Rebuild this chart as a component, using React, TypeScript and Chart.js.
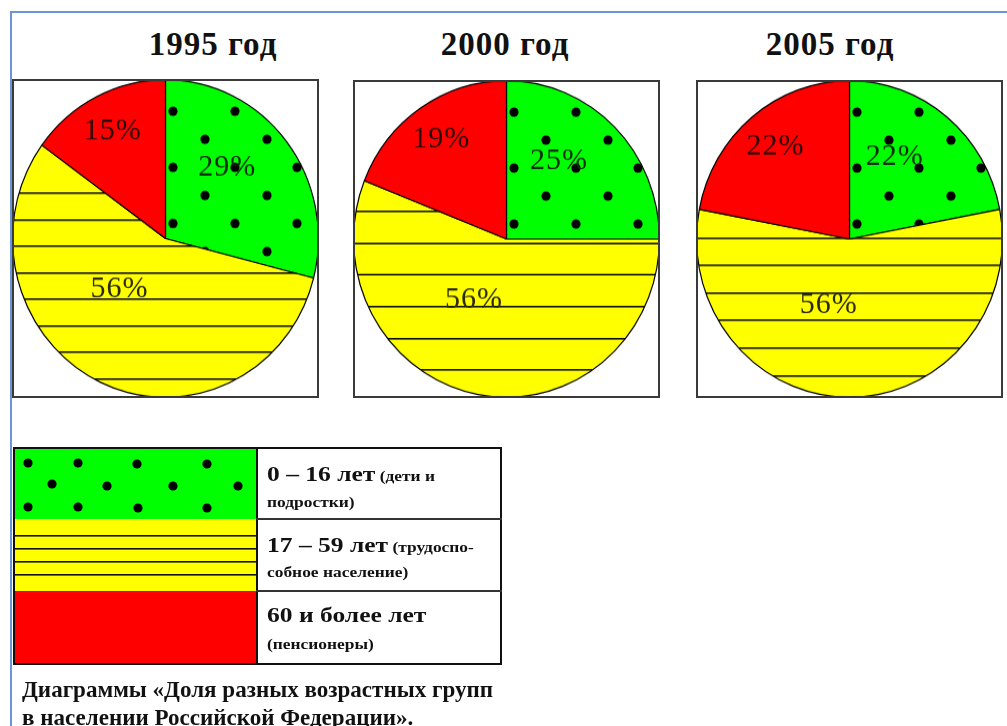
import React, { useEffect, useRef } from 'react';
import { Chart, registerables } from 'chart.js';

Chart.register(...registerables);

// ---- data ----
const years = ['1995 год', '2000 год', '2005 год'];
const categories = ['0 – 16 лет', '17 – 59 лет', '60 и более лет'];
const notesLine1 = ['(дети и', '(трудоспо-', ''];
const notesLine2 = ['подростки)', 'собное население)', '(пенсионеры)'];
const values1995 = [29, 56, 15];
const values2000 = [25, 56, 19];
const values2005 = [22, 56, 22];
const seriesByYear = [values1995, values2000, values2005];
const captionLines = ['Диаграммы «Доля разных возрастных групп', 'в населении Российской Федерации».'];

// ---- styles ----
const GREEN = '#00ff00';
const YELLOW = '#ffff00';
const RED = '#ff0000';
const SERIF = '"Liberation Serif", "Times New Roman", serif';
const labelRadius = [0.6, 0.44, 0.76];
const labelAngleShift = [-10, 18, 0];
const labelColors = ['#0d2a0d', '#2a2a05', '#2a0505'];
const CW = 307; // chart canvas drawing size

function makeDots(ctx: CanvasRenderingContext2D) {
  const c = document.createElement('canvas');
  c.width = CW;
  c.height = CW;
  const g = c.getContext('2d')!;
  g.fillStyle = GREEN;
  g.fillRect(0, 0, CW, CW);
  g.fillStyle = '#000';
  for (let k = 0; k < 12; k++) {
    const y = 31 + k * 27;
    const x0 = k % 2 === 0 ? 161 : 193;
    for (let x = x0 - 62 * 3; x < CW; x += 62) {
      g.beginPath();
      g.arc(x, y, 4.6, 0, Math.PI * 2);
      g.fill();
    }
  }
  return ctx.createPattern(c, 'no-repeat')!;
}

function makeLines(ctx: CanvasRenderingContext2D, start: number, step: number) {
  const c = document.createElement('canvas');
  c.width = CW;
  c.height = CW;
  const g = c.getContext('2d')!;
  g.fillStyle = YELLOW;
  g.fillRect(0, 0, CW, CW);
  g.fillStyle = '#111';
  for (let y = start; y < CW; y += step) g.fillRect(0, Math.round(y), CW, 1.6);
  return ctx.createPattern(c, 'no-repeat')!;
}

const labelPlugin = {
  id: 'sliceLabels',
  afterDatasetsDraw(chart: any) {
    const ctx = chart.ctx as CanvasRenderingContext2D;
    const meta = chart.getDatasetMeta(0);
    const data = chart.data.datasets[0].data as number[];
    ctx.save();
    ctx.font = `30px ${SERIF}`;
    try {
      (ctx as any).letterSpacing = '1px';
    } catch (e) {}
    ctx.textAlign = 'center';
    ctx.textBaseline = 'middle';
    meta.data.forEach((arc: any, i: number) => {
      const p = arc.getProps(['x', 'y', 'startAngle', 'endAngle', 'outerRadius'], true);
      const mid = (p.startAngle + p.endAngle) / 2 + (labelAngleShift[i] * Math.PI) / 180;
      const r = p.outerRadius * labelRadius[i];
      ctx.fillStyle = labelColors[i];
      ctx.fillText(`${data[i]}%`, p.x + r * Math.cos(mid), p.y + r * Math.sin(mid));
    });
    ctx.restore();
  },
};

type BoxSpec = { left: number; top: number; height: number; lineStart: number; lineStep: number };

function PieBox({ values, box }: { values: number[]; box: BoxSpec }) {
  const ref = useRef<HTMLCanvasElement>(null);
  useEffect(() => {
    const canvas = ref.current!;
    const ctx = canvas.getContext('2d')!;
    const chart = new Chart(canvas, {
      type: 'pie',
      data: {
        labels: categories,
        datasets: [
          {
            data: values,
            backgroundColor: [makeDots(ctx), makeLines(ctx, box.lineStart, box.lineStep), RED],
            borderColor: '#000',
            borderWidth: 1.2,
          },
        ],
      },
      options: {
        responsive: false,
        maintainAspectRatio: false,
        animation: false,
        events: [],
        layout: { padding: 0 },
        plugins: { legend: { display: false }, tooltip: { enabled: false } },
      },
      plugins: [labelPlugin],
    });
    return () => chart.destroy();
  }, [values, box]);
  return (
    <>
      <canvas
        ref={ref}
        width={CW}
        height={CW}
        style={{ position: 'absolute', left: box.left, top: box.top, width: CW, height: box.height, display: 'block' }}
      />
      <div
        style={{
          position: 'absolute',
          left: box.left,
          top: box.top,
          width: CW,
          height: box.height,
          boxSizing: 'border-box',
          border: '2px solid #3a3a3a',
          pointerEvents: 'none',
        }}
      />
    </>
  );
}

function Swatch({ kind, left, top, width, height }: { kind: number; left: number; top: number; width: number; height: number }) {
  const ref = useRef<HTMLCanvasElement>(null);
  useEffect(() => {
    const g = ref.current!.getContext('2d')!;
    if (kind === 0) {
      g.fillStyle = GREEN;
      g.fillRect(0, 0, width, height);
      g.fillStyle = '#000';
      const pts = [
        [13, 14], [63, 14], [122, 15], [192, 15],
        [37, 35], [92, 37], [158, 37], [223, 37],
        [13, 58], [63, 58], [123, 59], [192, 59],
      ];
      for (const [x, y] of pts) {
        g.beginPath();
        g.arc(x, y, 4.6, 0, Math.PI * 2);
        g.fill();
      }
    } else if (kind === 1) {
      g.fillStyle = YELLOW;
      g.fillRect(0, 0, width, height);
      g.fillStyle = '#111';
      for (let k = 0; k < 4; k++) g.fillRect(0, 16 + k * 13, width, 1.6);
    } else {
      g.fillStyle = RED;
      g.fillRect(0, 0, width, height);
    }
  }, [kind, width, height]);
  return <canvas ref={ref} width={width} height={height} style={{ position: 'absolute', left, top, display: 'block' }} />;
}

const textBase: React.CSSProperties = {
  position: 'absolute',
  fontFamily: SERIF,
  fontWeight: 'bold',
  color: '#111',
  whiteSpace: 'nowrap',
};

const legendText: React.CSSProperties = {
  ...textBase,
  transform: 'scaleX(1.16)',
  transformOrigin: '0 0',
};

const boxes: BoxSpec[] = [
  { left: 12, top: 79, height: 319, lineStart: 109, lineStep: 25.5 },
  { left: 353, top: 80, height: 318, lineStart: 126, lineStep: 30.7 },
  { left: 696, top: 80, height: 318, lineStart: 151.5, lineStep: 26.6 },
];

export default function App() {
  const titleCenters = [213, 505, 830];
  const rowTops = [449, 519, 591];
  const rowHeights = [70, 72, 72];
  const textTops = [
    [463, 495],
    [534, 565],
    [604, 637],
  ];
  return (
    <div style={{ position: 'fixed', left: 0, top: 0, width: 1007, height: 726, overflow: 'hidden', background: '#fff' }}>
      <div
        style={{
          position: 'absolute',
          left: 10,
          top: 11,
          width: 1000,
          height: 730,
          borderLeft: '2px solid #6a95d6',
          borderTop: '2px solid #6a95d6',
        }}
      />
      {years.map((y, i) => (
        <div
          key={y}
          style={{
            ...textBase,
            left: titleCenters[i] - 100,
            width: 200,
            textAlign: 'center',
            top: 28,
            fontSize: 33,
            lineHeight: '33px',
            letterSpacing: 1,
          }}
        >
          {y}
        </div>
      ))}
      {seriesByYear.map((vals, i) => (
        <PieBox key={i} values={vals} box={boxes[i]} />
      ))}

      {/* legend table */}
      {categories.map((c, i) => (
        <Swatch key={c} kind={i} left={15} top={rowTops[i]} width={242} height={rowHeights[i]} />
      ))}
      <div style={{ position: 'absolute', left: 13, top: 447, width: 489, height: 218, boxSizing: 'border-box', border: '2px solid #111' }} />
      <div style={{ position: 'absolute', left: 256, top: 447, width: 2, height: 218, background: '#111' }} />
      <div style={{ position: 'absolute', left: 256, top: 518, width: 246, height: 2, background: '#333' }} />
      <div style={{ position: 'absolute', left: 256, top: 590, width: 246, height: 2, background: '#333' }} />
      {categories.map((c, i) => (
        <React.Fragment key={c}>
          <div style={{ ...legendText, left: 267, top: textTops[i][0], fontSize: 22, lineHeight: '22px' }}>
            {c}
            {notesLine1[i] ? <span style={{ fontSize: 15 }}> {notesLine1[i]}</span> : null}
          </div>
          <div style={{ ...legendText, left: 267, top: textTops[i][1], fontSize: 15, lineHeight: '15px' }}>{notesLine2[i]}</div>
        </React.Fragment>
      ))}

      {captionLines.map((t, i) => (
        <div
          key={t}
          style={{
            ...textBase,
            left: 22,
            top: 677 + i * 28,
            fontSize: 24,
            lineHeight: '24px',
            transform: 'scaleX(0.96)',
            transformOrigin: '0 0',
          }}
        >
          {t}
        </div>
      ))}
    </div>
  );
}
